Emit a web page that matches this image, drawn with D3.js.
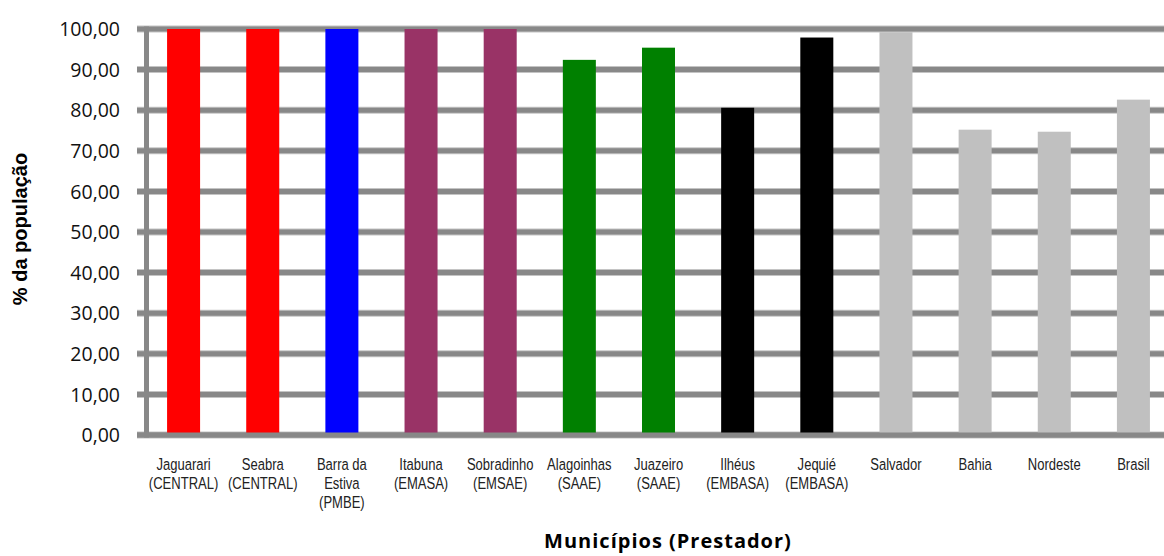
<!DOCTYPE html>
<html>
<head>
<meta charset="utf-8">
<script src="https://cdn.jsdelivr.net/npm/d3@7"></script>
<style>
  html, body { margin: 0; padding: 0; background: #fff; }
  svg { display: block; }
</style>
</head>
<body>
<svg id="chart" width="1164" height="556"></svg>
<script>
// Atendimento por município e prestador (% da população)
const categories = [
  ["Jaguarari", "(CENTRAL)"],
  ["Seabra", "(CENTRAL)"],
  ["Barra da", "Estiva", "(PMBE)"],
  ["Itabuna", "(EMASA)"],
  ["Sobradinho", "(EMSAE)"],
  ["Alagoinhas", "(SAAE)"],
  ["Juazeiro", "(SAAE)"],
  ["Ilhéus", "(EMBASA)"],
  ["Jequié", "(EMBASA)"],
  ["Salvador"],
  ["Bahia"],
  ["Nordeste"],
  ["Brasil"]
];
const values = [100, 100, 100, 100, 100, 92.4, 95.4, 80.6, 97.9, 99.2, 75.2, 74.7, 82.6];
const barColors = ["#ff0000", "#ff0000", "#0000ff", "#993366", "#993366",
                   "#008000", "#008000", "#000000", "#000000",
                   "#c0c0c0", "#c0c0c0", "#c0c0c0", "#c0c0c0"];
const yTicks = [0, 10, 20, 30, 40, 50, 60, 70, 80, 90, 100];
const yTitle = "% da população";
const xTitle = "Municípios (Prestador)";

const W = 1164, H = 556;
const plot = { left: 144, right: 1173, top: 29, bottom: 435 };

const svg = d3.select("#chart");
const keys = categories.map((c, i) => i);

const x = d3.scaleBand()
  .domain(keys)
  .range([plot.left, plot.right])
  .paddingInner(0.583)
  .paddingOuter(0.2915);

const y = d3.scaleLinear().domain([0, 100]).range([plot.bottom, plot.top]);

const fmt = d3.formatLocale({ decimal: ",", thousands: ".", grouping: [3], currency: ["R$", ""] }).format(".2f");

// horizontal gridlines (thick grey with a lighter rim), including tick stubs on the left
const grid = svg.append("g").attr("class", "grid");
grid.selectAll("line.rim").data(yTicks).join("line")
  .attr("class", "rim")
  .attr("x1", 137).attr("x2", W)
  .attr("y1", d => y(d)).attr("y2", d => y(d))
  .attr("stroke", "#c4c4c4").attr("stroke-width", 7);
grid.selectAll("line.core").data(yTicks).join("line")
  .attr("class", "core")
  .attr("x1", 137).attr("x2", W)
  .attr("y1", d => y(d)).attr("y2", d => y(d))
  .attr("stroke", "#888888").attr("stroke-width", 5);

// bars
svg.append("g").selectAll("rect").data(values).join("rect")
  .attr("x", (d, i) => x(i))
  .attr("width", x.bandwidth())
  .attr("y", d => y(d))
  .attr("height", d => y(0) - y(d))
  .attr("fill", (d, i) => barColors[i]);

// vertical value axis line
svg.append("line")
  .attr("x1", 146.5).attr("x2", 146.5)
  .attr("y1", y(100) - 2.5).attr("y2", y(0) + 2.5)
  .attr("stroke", "#888888").attr("stroke-width", 5);

// bottom axis line redrawn on top of bars
svg.append("line")
  .attr("x1", 137).attr("x2", W)
  .attr("y1", y(0)).attr("y2", y(0))
  .attr("stroke", "#888888").attr("stroke-width", 5);

// y axis labels
const yAxis = svg.append("g")
  .attr("transform", "translate(120,0)")
  .call(d3.axisLeft(y).tickValues(yTicks).tickFormat(fmt).tickSize(0).tickPadding(0));
yAxis.select(".domain").remove();
yAxis.selectAll("text")
  .attr("font-family", "'Open Sans', 'Noto Sans', sans-serif")
  .attr("font-size", 19.5)
  .attr("fill", "#111")
  .attr("dy", "0.34em");

// x axis category labels (multi-line, condensed sans)
const xAxis = svg.append("g")
  .attr("transform", `translate(0,${plot.bottom})`)
  .call(d3.axisBottom(x).tickSize(0).tickFormat(() => ""));
xAxis.select(".domain").remove();
xAxis.selectAll(".tick text").each(function(i) {
  const t = d3.select(this)
    .attr("y", 0).attr("dy", null)
    .attr("transform", "scale(0.79,1)")
    .attr("font-family", "'Liberation Sans', Arial, sans-serif")
    .attr("font-size", 16.5)
    .attr("fill", "#222");
  t.selectAll("tspan").data(categories[i]).join("tspan")
    .attr("x", 0)
    .attr("y", (d, k) => 35 + k * 19)
    .text(d => d);
});

// axis titles
svg.append("text")
  .attr("transform", "translate(27,229) rotate(-90)")
  .attr("text-anchor", "middle")
  .attr("font-family", "'Liberation Sans', Arial, sans-serif")
  .attr("font-weight", "bold")
  .attr("font-size", 20)
  .attr("fill", "#000")
  .text(yTitle);

svg.append("text")
  .attr("x", 668).attr("y", 548)
  .attr("text-anchor", "middle")
  .attr("font-family", "'Open Sans', 'Noto Sans', sans-serif")
  .attr("font-weight", "bold")
  .attr("font-size", 20)
  .attr("letter-spacing", 1)
  .attr("fill", "#000")
  .text(xTitle);
</script>
</body>
</html>
